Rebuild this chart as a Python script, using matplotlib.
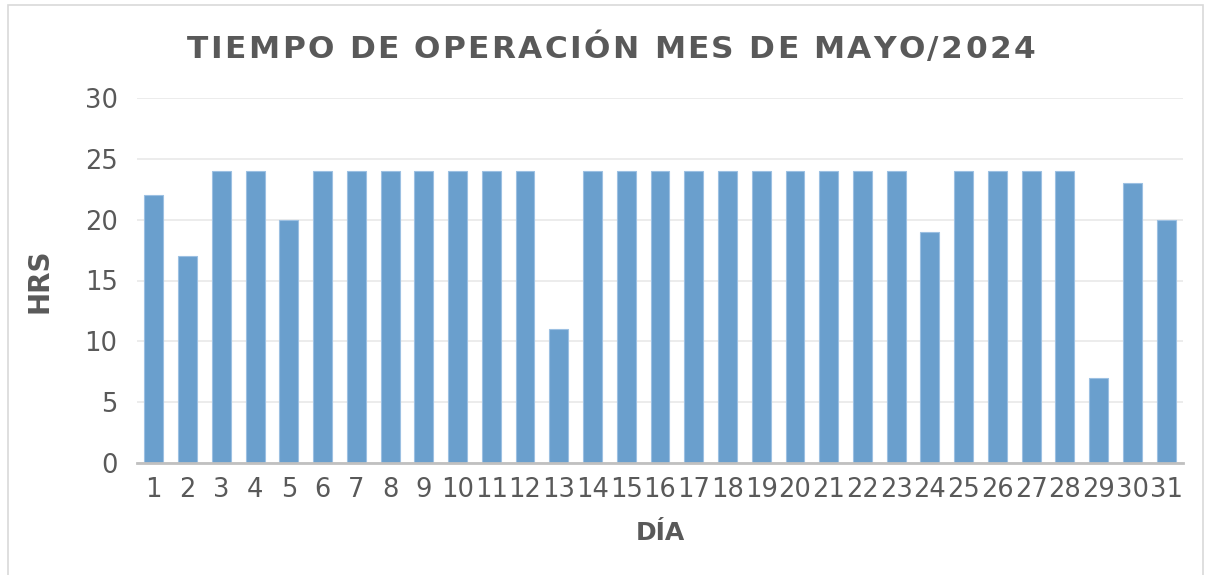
import numpy as np
import matplotlib
matplotlib.use("Agg")
import matplotlib.pyplot as plt
from matplotlib.patches import Rectangle

# datos del mes
dias = list(range(1, 32))
horas = [22, 17, 24, 24, 20, 24, 24, 24, 24, 24, 24, 24, 11, 24, 24, 24,
         24, 24, 24, 24, 24, 24, 24, 19, 24, 24, 24, 24, 7, 23, 20]
y_ticks = [0, 5, 10, 15, 20, 25, 30]
titulo = "TIEMPO DE OPERACIÓN MES DE MAYO/2024"

W, H = 1211, 575
gris = "#595959"
azul = "#6a9fcd"

plt.rcParams['font.family'] = ['DejaVu Sans']

fig = plt.figure(figsize=(W / 100, H / 100), dpi=100)
ax = fig.add_axes([137 / W, (H - 463) / H, 1046 / W, 365 / H])

ax.bar(dias, horas, width=0.56, color=azul, edgecolor="#9cc0e2",
       linewidth=0.8, zorder=3)

ax.set_xlim(0.5, 31.5)
ax.set_ylim(0, 30)
ax.set_yticks(y_ticks)
ax.set_xticks(dias)
ax.set_xticklabels([str(d) for d in dias])
ax.grid(axis="y", color="#e9e9e9", linewidth=1.2, zorder=0)
for s in ["top", "right", "left"]:
    ax.spines[s].set_visible(False)
ax.spines["bottom"].set_color("#c0c0c0")
ax.spines["bottom"].set_linewidth(2)
ax.spines["bottom"].set_zorder(4)
ax.tick_params(axis="both", length=0, labelsize=18.5, labelcolor=gris)
ax.tick_params(axis="y", pad=14)
ax.tick_params(axis="x", pad=10)

ax.set_ylabel("HRS", fontsize=20, fontweight="bold", color=gris, labelpad=22)
ax.set_xlabel("DÍA", fontsize=18, fontweight="bold", color=gris, labelpad=13)

# titulo con espaciado entre letras
renderer = fig.canvas.get_renderer()
tsize = 22.5
anchos = []
for ch in titulo:
    t = fig.text(0, 0, ch if ch != " " else "I", fontsize=tsize, fontweight="bold")
    w = t.get_window_extent(renderer).width
    if ch == " ":
        w = w * 0.9
    anchos.append(w)
    t.remove()
total = 848
extra = (total - sum(anchos)) / (len(titulo) - 1)
x = 611 - total / 2
for ch, w in zip(titulo, anchos):
    if ch != " ":
        fig.text(x / W, (H - 58) / H, ch, fontsize=tsize, fontweight="bold",
                 color=gris, ha="left", va="baseline")
    x += w + extra

# marco exterior
fig.patches.append(Rectangle((8 / W, -0.02), 1195 / W, (H - 5) / H + 0.02,
                             transform=fig.transFigure, fill=False,
                             edgecolor="#d9d9d9", linewidth=1.2))

fig.savefig("out.png", dpi=100)
